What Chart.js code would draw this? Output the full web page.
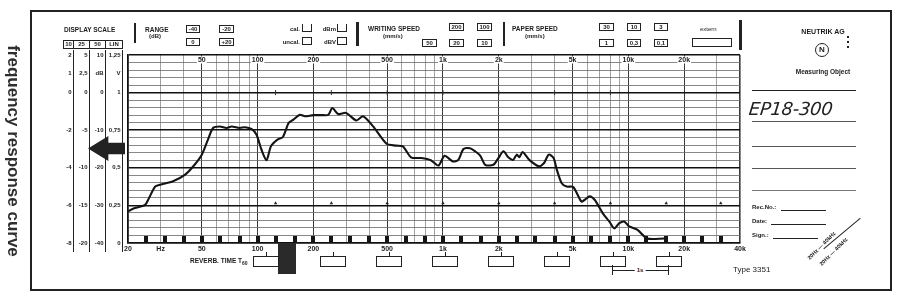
<!DOCTYPE html>
<html>
<head>
<meta charset="utf-8">
<script src="https://cdn.jsdelivr.net/npm/chart.js@4.4.1/dist/chart.umd.min.js"></script>
<style>
html, body { margin: 0; padding: 0; background: #fff; }
#page { position: relative; width: 900px; height: 301px; overflow: hidden; color: #1c1c1c; font-family: "Liberation Sans", Arial, sans-serif; }
#page canvas { position: absolute; left: 0; top: 0; }
</style>
</head>
<body>
<div id="page">
  <canvas id="c" width="900" height="301"></canvas>
</div>
<script>
const freqHz = [20, 21.4, 24.7, 25.7, 28, 29.8, 35, 40.5, 45, 50,
  54, 57.5, 62.6, 68, 72.4, 80, 85.5, 93, 98.7, 105,
  111.7, 118, 128, 137, 147, 156, 169, 180, 200, 227,
  241, 253, 272, 300, 341, 371, 420, 496, 560, 608,
  672, 764, 860, 945, 1020, 1130, 1210, 1290, 1400, 1490,
  1590, 1690, 1870, 1990, 2120, 2250, 2390, 2500, 2580, 2690,
  2920, 3290, 3500, 3720, 3950, 4110, 4370, 4650, 5040, 5580,
  5820, 6190, 6580, 7280, 7900, 8400, 8900, 9500, 10100, 11200,
  12600, 15600]
const levelDb = [-31.6, -30.8, -29.9, -28.5, -25.0, -24.5, -23.6, -21.9, -19.6, -16.5,
  -12.5, -9.4, -9.0, -9.4, -9.0, -9.4, -9.2, -9.7, -11.2, -15.2,
  -18.0, -14.3, -12.5, -11.8, -8.1, -7.2, -5.9, -6.3, -6.0, -6.0,
  -5.9, -4.1, -5.7, -5.4, -7.4, -6.3, -9.0, -13.6, -14.1, -14.3,
  -17.2, -17.4, -18.0, -19.4, -16.8, -18.3, -17.9, -15.0, -14.8, -15.6,
  -16.8, -19.2, -19.2, -17.4, -15.6, -17.2, -17.9, -16.5, -17.2, -15.8,
  -17.9, -19.6, -18.8, -16.5, -17.4, -20.5, -24.1, -25.0, -25.1, -29.0,
  -28.5, -27.6, -28.5, -32.1, -34.3, -36.1, -34.8, -34.3, -35.6, -36.5,
  -38.8, -38.8]

// printed marks on the paper
const thirdOctaveHz = [25, 31.5, 40, 50, 63, 80, 100, 125, 160, 200, 250, 315, 400, 500, 630, 800,
  1000, 1250, 1600, 2000, 2500, 3150, 4000, 5000, 6300, 8000, 10000, 12500, 16000, 20000, 25000, 31500]
const octaveHz = [125, 250, 500, 1000, 2000, 4000, 8000, 16000, 31500]
const refTickHz = [125, 250, 500, 1000, 2000, 4000, 8000]
const thirdOctaveDb = -39
const octaveDb = -29.4
const refTickDb = 0

// grid and tick labels
const gridHz = [20, 30, 40, 50, 60, 70, 80, 90, 100, 200, 300, 400, 500, 600, 700, 800, 900,
  1000, 2000, 3000, 4000, 5000, 6000, 7000, 8000, 9000, 10000, 20000, 30000, 40000]
const boldHz = [20, 50, 100, 200, 500, 1000, 2000, 5000, 10000, 20000, 40000]
const bottomHz = [20, 30, 50, 100, 200, 500, 1000, 2000, 5000, 10000, 20000, 40000]
const bottomText = ['20', 'Hz', '50', '100', '200', '500', '1k', '2k', '5k', '10k', '20k', '40k']
const topHz = [50, 100, 200, 500, 1000, 2000, 5000, 10000, 20000]
const topText = ['50', '100', '200', '500', '1k', '2k', '5k', '10k', '20k']
const scaleDb = [10, 5, 0, -10, -20, -30, -40]
const scale10 = ['2', '1', '0', '-2', '-4', '-6', '-8']
const scale25 = ['5', '2,5', '0', '-5', '-10', '-15', '-20']
const scale50 = ['10', 'dB', '0', '-10', '-20', '-30', '-40']
const scaleLin = ['1,25', 'V', '1', '0,75', '0,5', '0,25', '0']

const F = '"Liberation Sans", Arial, sans-serif'

let tab = document.createElement('canvas')
tab.width = 4
tab.height = 7
let tc = tab.getContext('2d')
tc.fillStyle = '#151515'
tc.fillRect(0, 0, 4, 7)

const paperText = {
    id: 'paperText',
    afterDraw(chart) {
        let ctx = chart.ctx
        let a = chart.chartArea
        let x = chart.scales.x
        let y = chart.scales.y
        ctx.save()
        ctx.fillStyle = '#1c1c1c'
        ctx.textBaseline = 'middle'
        ctx.textAlign = 'center'
        ctx.font = 'bold 7px ' + F
        for (let i = 0; i < bottomHz.length; i++) {
            ctx.fillText(bottomText[i], x.getPixelForValue(bottomHz[i]), a.bottom + 6)
        }
        for (let i = 0; i < topHz.length; i++) {
            let px = x.getPixelForValue(topHz[i])
            let w = ctx.measureText(topText[i]).width
            ctx.fillStyle = '#fff'
            ctx.fillRect(px - w / 2 - 1, a.top + 1.5, w + 2, 7)
            ctx.fillStyle = '#1c1c1c'
            ctx.fillText(topText[i], px, a.top + 5.5)
        }
        // display scale columns
        ctx.textAlign = 'right'
        ctx.font = 'bold 6px ' + F
        let cols = [scale10, scale25, scale50, scaleLin]
        let right = [71.5, 87.5, 103.5, 120.5]
        for (let r = 0; r < scaleDb.length; r++) {
            let py = y.getPixelForValue(scaleDb[r])
            for (let c = 0; c < cols.length; c++) ctx.fillText(cols[c][r], right[c], py)
        }
        ctx.restore()
    }
}

new Chart(document.getElementById('c'), {
    type: 'line',
    data: {
        datasets: [{
            label: 'response',
            data: freqHz.map((f, i) => ({ x: f, y: levelDb[i] })),
            borderColor: '#141414',
            borderWidth: 2.1,
            pointRadius: 0,
            tension: 0.25
        }, {
            label: 'third octave',
            data: thirdOctaveHz.map(f => ({ x: f, y: thirdOctaveDb })),
            showLine: false,
            pointStyle: tab,
            pointRadius: 3
        }, {
            label: 'octave',
            data: octaveHz.map(f => ({ x: f, y: octaveDb })),
            showLine: false,
            pointStyle: 'triangle',
            pointRadius: 2,
            backgroundColor: '#222',
            borderColor: '#222',
            borderWidth: 0
        }, {
            label: 'ref',
            data: refTickHz.map(f => ({ x: f, y: refTickDb })),
            showLine: false,
            pointStyle: 'line',
            rotation: 90,
            pointRadius: 2.5,
            borderColor: '#333',
            borderWidth: 1
        }]
    },
    options: {
        responsive: false,
        animation: false,
        layout: { padding: { left: 128, top: 55, right: 160, bottom: 58 } },
        plugins: { legend: { display: false }, tooltip: { enabled: false } },
        scales: {
            x: {
                type: 'logarithmic',
                min: 20,
                max: 40000,
                afterBuildTicks: s => { s.ticks = gridHz.map(v => ({ value: v })) },
                ticks: { display: false },
                grid: {
                    drawTicks: false,
                    color: c => (c.tick && boldHz.includes(c.tick.value)) ? '#3a3a3a' : '#8a8a8a',
                    lineWidth: c => (c.tick && (c.tick.value === 20 || c.tick.value === 40000)) ? 1.6 : (c.tick && boldHz.includes(c.tick.value) ? 1 : 0.8)
                },
                border: { display: true, color: '#111', width: 1.6 }
            },
            y: {
                min: -40,
                max: 10,
                afterBuildTicks: s => {
                    let t = []
                    for (let v = -40; v <= 10; v += 2) t.push({ value: v })
                    s.ticks = t
                },
                ticks: { display: false },
                grid: {
                    drawTicks: false,
                    color: c => (c.tick && c.tick.value % 10 === 0) ? '#111' : '#6a6a6a',
                    lineWidth: c => (c.tick && c.tick.value % 10 === 0) ? 1.6 : 0.8
                },
                border: { display: true, color: '#111', width: 1.6 }
            }
        }
    },
    plugins: [paperText]
})

// ---- printed form around the chart ----
let page = document.getElementById('page')

function put(html, css) {
    let d = document.createElement('div')
    d.innerHTML = html
    d.style.cssText = 'position:absolute;' + css
    page.appendChild(d)
    return d
}
function label(s, x, y, size, extra) {
    return put(s, `left:${x}px;top:${y}px;font:bold ${size}px ${F};line-height:1;white-space:nowrap;${extra || ''}`)
}
function labelR(s, x, y, size, extra) {
    return put(s, `right:${900 - x}px;top:${y}px;font:bold ${size}px ${F};line-height:1;white-space:nowrap;${extra || ''}`)
}
function box(s, x, y, w, h, extra) {
    return put(s, `left:${x}px;top:${y}px;width:${w}px;height:${h}px;border:1px solid #222;box-sizing:border-box;font:bold 6px ${F};line-height:${h - 2}px;text-align:center;${extra || ''}`)
}
function rule(x, y, w, h, extra) {
    return put('', `left:${x}px;top:${y}px;width:${w}px;height:${h}px;background:#222;${extra || ''}`)
}

// outer frame and side title
put('', 'left:30px;top:10px;width:862px;height:281px;border:2px solid #222;border-top-width:2.5px;box-sizing:border-box;')
put('frequency response curve', `left:13px;top:151px;transform:translate(-50%,-50%) rotate(90deg);font:bold 17px ${F};color:#2e2e2e;white-space:nowrap;`)

// display scale
label('DISPLAY SCALE', 64, 27, 6.5)
box('10', 63, 40, 11, 9)
box('25', 73, 40, 17, 9)
box('50', 89, 40, 17, 9, 'border-width:1.5px;')
box('LIN', 105, 40, 18, 9)
rule(73, 50, 1, 202)
rule(89, 50, 1, 202)
rule(105, 50, 1, 202)
rule(122, 50, 1, 202)
put('', 'left:88px;top:136px;width:37px;height:25px;background:#222;clip-path:polygon(0 50%,55% 0,55% 27%,100% 27%,100% 73%,55% 73%,55% 100%);')

// range
rule(134, 23, 2, 20)
label('RANGE', 145, 27, 6.5)
label('(dB)', 149, 33, 6)
box('-40', 186, 25, 14, 8)
box('-20', 219, 25, 15, 8)
box('0', 186, 38, 14, 8)
box('+20', 219, 38, 15, 8)
labelR('cal.', 300, 26, 6)
box('', 302, 24, 10, 8, 'border-top:none;')
labelR('uncal.', 300, 39, 6)
box('', 302, 37, 10, 8)
labelR('dBm', 336, 26, 6)
box('', 337, 24, 10, 8, 'border-top:none;')
labelR('dBV', 336, 39, 6)
box('', 337, 37, 10, 8)

// writing speed
rule(356, 22, 3, 24)
label('WRITING SPEED', 368, 26, 6.5)
label('(mm/s)', 383, 33, 6)
box('200', 449, 23, 15, 8)
box('100', 477, 23, 15, 8)
box('50', 422, 39, 15, 8)
box('20', 449, 39, 15, 8)
box('10', 477, 39, 15, 8)

// paper speed
rule(503, 22, 2, 24)
label('PAPER SPEED', 512, 26, 6.5)
label('(mm/s)', 525, 33, 6)
box('30', 599, 23, 15, 8)
box('10', 627, 23, 14, 8)
box('3', 654, 23, 14, 8)
box('1', 599, 39, 15, 8)
box('0,3', 627, 39, 14, 8)
box('0,1', 654, 39, 14, 8)
label('extern', 700, 26, 6, 'font-weight:normal;')
box('', 692, 38, 40, 9)
rule(739, 20, 2.5, 30)

// right panel
label('NEUTRIK AG', 823, 28, 7, 'transform:translateX(-50%);')
rule(847, 36, 2, 2)
rule(847, 41, 2, 2)
rule(847, 46, 2, 2)
put('N', `left:815px;top:43px;width:14px;height:14px;border:1.2px solid #222;border-radius:50%;box-sizing:border-box;font:bold 8px ${F};line-height:12px;text-align:center;`)
label('Measuring Object', 823, 69, 6.5, 'transform:translateX(-50%);')
rule(752, 90, 104, 1)
put('EP18-300', 'left:749px;top:98px;font:italic 200 18px "DejaVu Sans", sans-serif;color:#222;white-space:nowrap;letter-spacing:-0.3px;transform:skewX(-6deg);')
rule(752, 121, 104, 1, 'background:#555;')
rule(752, 146, 104, 1, 'background:#555;')
rule(752, 168, 104, 1, 'background:#555;')
rule(752, 190, 104, 1, 'background:#777;')
label('Rec.No.:', 752, 204, 6)
rule(781, 210, 45, 0.8)
label('Date:', 752, 218, 6)
rule(771, 224, 55, 0.8)
label('Sign.:', 752, 232, 6)
rule(773, 238, 45, 0.8)
label('20Hz — 40kHz', 822, 246, 5.5, 'transform:translate(-50%,-50%) rotate(-45deg);')
label('20Hz — 40kHz', 834, 252, 5.5, 'transform:translate(-50%,-50%) rotate(-45deg);')
rule(818, 233, 48, 0.8, 'transform:rotate(-40deg);')
label('Type 3351', 733, 266, 8, 'font-weight:normal;')

// reverberation boxes below the strip
label('REVERB. TIME T<span style="font-size:5px;vertical-align:-2px">60</span>', 190, 258, 6.5)
rule(278, 243, 18, 31, 'background:#2a2a2a;')
for (let bx of [253, 320, 376, 432, 488, 544, 600, 656]) {
    box('', bx, 256, 26, 11)
    rule(bx + 13, 252, 1, 4)
}
rule(613, 270, 56, 0.8)
rule(612, 265, 1, 10)
rule(668, 265, 1, 10)
label('1s', 640, 267, 6, 'background:#fff;padding:0 2px;transform:translateX(-50%);')
</script>
</body>
</html>
